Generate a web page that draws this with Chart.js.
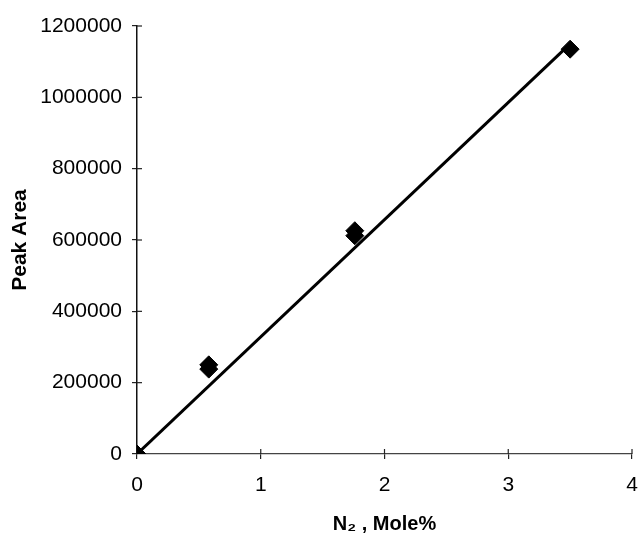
<!DOCTYPE html>
<html>
<head>
<meta charset="utf-8">
<script src="https://cdn.jsdelivr.net/npm/chart.js@4/dist/chart.umd.min.js"></script>
<style>
  html, body { margin: 0; padding: 0; background: #fff; }
  #wrap { width: 642px; height: 538px; }
</style>
</head>
<body>
<div id="wrap"><canvas id="myChart" width="642" height="538"></canvas></div>
<script>
// measured points (N2 mole %, peak area)
var molePct = [0, 0.58, 0.58, 1.76, 1.76, 3.5];
var peakArea = [0, 250000, 238000, 626000, 612000, 1135000];

// fitted calibration line
var fitX = [0, 3.5];
var fitY = [0, 1150000];

var xTicks = [0, 1, 2, 3, 4];
var yTicks = [0, 200000, 400000, 600000, 800000, 1000000, 1200000];

function pairs(xs, ys) {
  var out = [];
  for (var i = 0; i < xs.length; i++) out.push({x: xs[i], y: ys[i]});
  return out;
}

// ticks that cross the axis (draw the inner half)
var crossTicks = {
  id: 'crossTicks',
  afterDraw: function(chart) {
    var ctx = chart.ctx;
    var xs = chart.scales.x, ys = chart.scales.y;
    var x0 = xs.getPixelForValue(0), y0 = ys.getPixelForValue(0);
    ctx.save();
    ctx.strokeStyle = '#222';
    ctx.lineWidth = 1.2;
    xTicks.forEach(function(v) {
      if (v === 0) return;
      var px = xs.getPixelForValue(v);
      ctx.beginPath(); ctx.moveTo(px, y0); ctx.lineTo(px, y0 - 5); ctx.stroke();
    });
    yTicks.forEach(function(v) {
      if (v === 0) return;
      var py = ys.getPixelForValue(v);
      ctx.beginPath(); ctx.moveTo(x0, py); ctx.lineTo(x0 + 5, py); ctx.stroke();
    });
    ctx.restore();
  }
};

var ctx = document.getElementById('myChart').getContext('2d');
var chart = new Chart(ctx, {
  type: 'scatter',
  data: {
    datasets: [{
      label: 'fit',
      data: pairs(fitX, fitY),
      showLine: true,
      borderColor: '#000',
      borderWidth: 3,
      pointRadius: 0,
      fill: false
    }, {
      label: 'data',
      data: pairs(molePct, peakArea),
      pointStyle: 'rectRot',
      pointRadius: 9,
      backgroundColor: '#000',
      borderColor: '#000'
    }]
  },
  options: {
    responsive: false,
    animation: false,
    layout: { padding: { top: 26, right: -4, bottom: 0, left: 0 } },
    plugins: { legend: { display: false }, tooltip: { enabled: false } },
    scales: {
      x: {
        type: 'linear',
        min: 0, max: 4,
        afterBuildTicks: function(s) { s.ticks = xTicks.map(function(v) { return {value: v}; }); },
        afterFit: function(s) { s.paddingLeft = 0; s.paddingRight = 0; s.height = 84; },
        grid: { drawOnChartArea: false, tickLength: 5, color: '#222', lineWidth: 1.2 },
        border: { color: '#444', width: 1.2, dash: [7, 2] },
        ticks: { color: '#000', font: { family: 'Liberation Sans', size: 21 }, padding: 14 },
        title: {
          display: true,
          text: 'N\u2082 , Mole%',
          color: '#000',
          font: { family: 'Liberation Sans', size: 20, weight: 'bold' },
          padding: { top: 0, bottom: 2 }
        }
      },
      y: {
        type: 'linear',
        min: 0, max: 1200000,
        afterBuildTicks: function(s) { s.ticks = yTicks.map(function(v) { return {value: v}; }); },
        afterFit: function(s) { s.width = 137; s.paddingTop = 0; s.paddingBottom = 0; },
        grid: { drawOnChartArea: false, tickLength: 5, color: '#222', lineWidth: 1.2 },
        border: { color: '#111', width: 1.5 },
        ticks: {
          color: '#000',
          font: { family: 'Liberation Sans', size: 21 },
          padding: 10,
          callback: function(v) { return String(v); }
        },
        title: {
          display: true,
          text: 'Peak Area',
          color: '#000',
          font: { family: 'Liberation Sans', size: 21, weight: 'bold' },
          padding: { top: 8, bottom: 0 }
        }
      }
    }
  },
  plugins: [crossTicks]
});
</script>
</body>
</html>
